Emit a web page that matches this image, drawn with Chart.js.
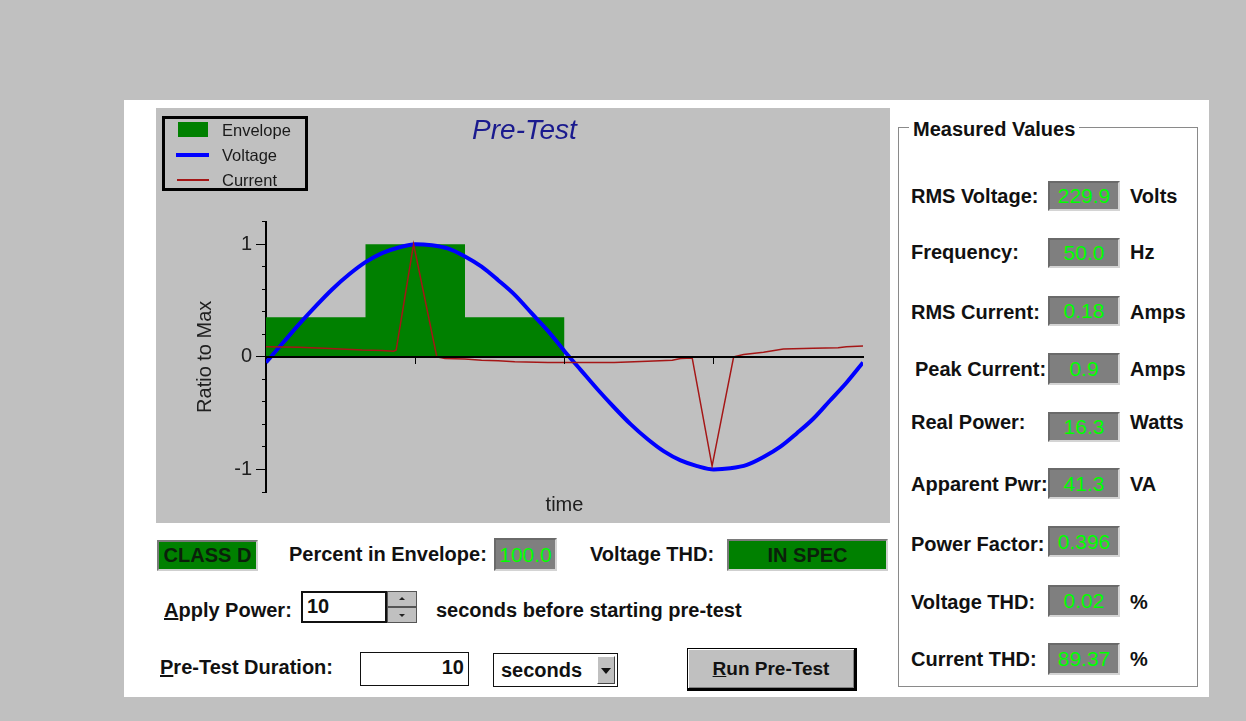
<!DOCTYPE html>
<html><head><meta charset="utf-8">
<script src="https://cdn.jsdelivr.net/npm/chart.js@4/dist/chart.umd.min.js"></script>
<style>
html,body{margin:0;padding:0;}
body{width:1246px;height:721px;background:#c0c0c0;position:relative;overflow:hidden;font-family:"Liberation Sans",Arial,sans-serif;}
#panel{position:absolute;left:124px;top:100px;width:1085px;height:597px;background:#fff;}
#plot{position:absolute;left:156px;top:108px;width:734px;height:415px;background:#c0c0c0;}
#plot canvas{position:absolute;left:0;top:0;}
.t{position:absolute;white-space:nowrap;font-weight:bold;font-size:20px;line-height:24px;color:#111;transform:translateY(-50%);}
.v{position:absolute;box-sizing:border-box;background:#7f7f7f;color:#00ff00;font-size:21px;display:flex;align-items:center;justify-content:center;border:2px solid;border-color:#6a6a6a #d4d4d4 #d4d4d4 #6a6a6a;}
.g{position:absolute;box-sizing:border-box;background:#008000;color:#0b1f0b;font-weight:bold;font-size:20px;display:flex;align-items:center;justify-content:center;border:2px solid;border-color:#7a7a7a #cfcfcf #cfcfcf #7a7a7a;}
#legend{position:absolute;left:162px;top:116px;width:146px;height:75px;box-sizing:border-box;border:3px solid #000;}
.li{position:absolute;font-size:16.5px;color:#1a1a1a;line-height:20px;transform:translateY(-50%);}
.inp{position:absolute;box-sizing:border-box;background:#fff;border:2px solid #111;font-size:20px;font-weight:bold;color:#111;}
.spin{position:absolute;box-sizing:border-box;background:#c0c0c0;border:1px solid #555;}
.arr{position:absolute;width:0;height:0;border-left:3px solid transparent;border-right:3px solid transparent;}
#group{position:absolute;left:898px;top:127px;width:300px;height:560px;box-sizing:border-box;border:1px solid #8a8a8a;box-shadow:inset 1px 1px 0 #fff;}
</style>
</head><body>
<div id="panel"></div>
<div id="plot"><canvas id="c" width="734" height="415"></canvas></div>
<div id="legend"></div>
<div style="position:absolute;left:178px;top:122px;width:30px;height:15px;background:#008000;"></div>
<div class="li" style="left:222px;top:130px;">Envelope</div>
<div style="position:absolute;left:176px;top:153px;width:33px;height:4px;background:#0000ff;"></div>
<div class="li" style="left:222px;top:155px;">Voltage</div>
<div style="position:absolute;left:177px;top:179px;width:32px;height:2px;background:#a51616;"></div>
<div class="li" style="left:222px;top:180px;">Current</div>

<div class="g" style="left:157px;top:540px;width:101px;height:31px;">CLASS D</div>
<div class="t" style="left:289px;top:554px;">Percent in Envelope:</div>
<div class="v" style="left:494px;top:538px;width:63px;height:33px;">100.0</div>
<div class="t" style="left:590px;top:554px;">Voltage THD:</div>
<div class="g" style="left:727px;top:539px;width:161px;height:32px;">IN SPEC</div>

<div class="t" style="left:164px;top:610px;"><u>A</u>pply Power:</div>
<div class="inp" style="left:301px;top:591px;width:86px;height:32px;padding:2px 0 0 4px;">10</div>
<div class="spin" style="left:387px;top:591px;width:30px;height:16px;"><div class="arr" style="left:11px;top:5px;border-bottom:3px solid #222;"></div></div>
<div class="spin" style="left:387px;top:607px;width:30px;height:16px;"><div class="arr" style="left:11px;top:6px;border-top:3px solid #222;"></div></div>
<div class="t" style="left:436px;top:610px;">seconds before starting pre-test</div>

<div class="t" style="left:160px;top:667px;"><u>P</u>re-Test Duration:</div>
<div class="inp" style="left:360px;top:652px;width:109px;height:34px;text-align:right;padding:3px 4px 0 0;border-width:1px;">10</div>
<div class="inp" style="left:493px;top:653px;width:125px;height:34px;border-width:1px;padding:5px 0 0 7px;">seconds</div>
<div style="position:absolute;left:597px;top:656px;width:18px;height:28px;box-sizing:border-box;background:#c0c0c0;border:1px solid;border-color:#fff #444 #444 #fff;"><div class="arr" style="left:3px;top:11px;border-left-width:5px;border-right-width:5px;border-top:6px solid #111;"></div></div>
<div style="position:absolute;left:687px;top:648px;width:170px;height:43px;box-sizing:border-box;background:#c0c0c0;border:1px solid #000;border-right-width:3px;border-bottom-width:3px;box-shadow:inset 1px 1px 0 #fff, inset -1px -1px 0 #808080;display:flex;align-items:center;justify-content:center;font-weight:bold;font-size:19px;color:#111;"><span><u>R</u>un Pre-Test</span></div>

<div id="group"></div>
<div class="t" style="left:909px;top:129px;background:#fff;padding:0 4px;">Measured Values</div>

<div class="t" style="left:911px;top:196px;">RMS Voltage:</div>
<div class="v" style="left:1048px;top:181px;width:72px;height:30px;">229.9</div>
<div class="t" style="left:1130px;top:196px;">Volts</div>

<div class="t" style="left:911px;top:252px;">Frequency:</div>
<div class="v" style="left:1048px;top:238px;width:72px;height:30px;">50.0</div>
<div class="t" style="left:1130px;top:252px;">Hz</div>

<div class="t" style="left:911px;top:312px;">RMS Current:</div>
<div class="v" style="left:1048px;top:296px;width:72px;height:30px;">0.18</div>
<div class="t" style="left:1130px;top:312px;">Amps</div>

<div class="t" style="left:915px;top:369px;">Peak Current:</div>
<div class="v" style="left:1048px;top:353px;width:72px;height:32px;">0.9</div>
<div class="t" style="left:1130px;top:369px;">Amps</div>

<div class="t" style="left:911px;top:422px;">Real Power:</div>
<div class="v" style="left:1048px;top:412px;width:72px;height:30px;">16.3</div>
<div class="t" style="left:1130px;top:422px;">Watts</div>

<div class="t" style="left:911px;top:484px;">Apparent Pwr:</div>
<div class="v" style="left:1048px;top:468px;width:72px;height:31px;">41.3</div>
<div class="t" style="left:1130px;top:484px;">VA</div>

<div class="t" style="left:911px;top:544px;">Power Factor:</div>
<div class="v" style="left:1048px;top:526px;width:72px;height:31px;">0.396</div>

<div class="t" style="left:911px;top:602px;">Voltage THD:</div>
<div class="v" style="left:1048px;top:585px;width:72px;height:32px;">0.02</div>
<div class="t" style="left:1130px;top:602px;">%</div>

<div class="t" style="left:911px;top:659px;">Current THD:</div>
<div class="v" style="left:1048px;top:643px;width:72px;height:32px;">89.37</div>
<div class="t" style="left:1130px;top:659px;">%</div>

<script>
// ---- chart data (x in degrees of one mains period, y as ratio to max) ----
const voltageAngles = [0,10,20,30,40,50,60,70,80,90,100,110,120,130,140,150,160,170,180,190,200,210,220,230,240,250,260,270,280,290,300,310,320,330,340,350,360];
const voltageValues = [-0.05,0.12,0.29,0.45,0.60,0.73,0.84,0.92,0.97,1.00,0.99,0.96,0.89,0.80,0.68,0.55,0.39,0.23,0.05,-0.12,-0.29,-0.45,-0.60,-0.73,-0.84,-0.92,-0.97,-1.00,-0.99,-0.96,-0.89,-0.80,-0.68,-0.55,-0.39,-0.23,-0.05];
const currentAngles = [0,20,35,45,58,70,77,78.5,89,103,108,120,130,140,150,170,185,210,230,245,250,257,269,282,288,300,312,330,345,350,360];
const currentValues = [0.09,0.085,0.075,0.07,0.06,0.055,0.05,0.06,1.0,0.0,-0.015,-0.02,-0.03,-0.035,-0.045,-0.05,-0.05,-0.05,-0.04,-0.03,-0.015,-0.01,-0.97,0.0,0.02,0.04,0.07,0.075,0.08,0.09,0.095];
const envelopeAngles = [0,60,60,120,120,180,180];
const envelopeValues = [0.35,0.35,1,1,0.35,0.35,0];
const yTickLabels = [-1,0,1];

const zip = (xs, ys) => xs.map((x, i) => ({x: x, y: ys[i]}));
Chart.defaults.font.family = '"Liberation Sans", Arial, sans-serif';

new Chart(document.getElementById('c'), {
  type: 'line',
  data: {
    datasets: [
      {label: 'Current', data: zip(currentAngles, currentValues), borderColor: '#a51616', borderWidth: 1.5, pointRadius: 0, tension: 0, fill: false},
      {label: 'Voltage', data: zip(voltageAngles, voltageValues), borderColor: '#0000ff', borderWidth: 4, pointRadius: 0, cubicInterpolationMode: 'monotone', fill: false},
      {label: 'Envelope', data: zip(envelopeAngles, envelopeValues), borderColor: 'rgba(0,0,0,0)', borderWidth: 0, backgroundColor: '#008000', pointRadius: 0, tension: 0, fill: 'origin'}
    ]
  },
  options: {
    responsive: false, animation: false, devicePixelRatio: 1, events: [],
    layout: {padding: {left: 30, right: 27, top: 0, bottom: 0}},
    plugins: {
      legend: {display: false}, tooltip: {enabled: false},
      title: {display: true, text: 'Pre-Test', color: '#1a1a8e', font: {size: 28, style: 'italic', weight: 'normal'}, padding: {top: 6, bottom: 74}}
    },
    scales: {
      x: {type: 'linear', min: 0, max: 360, position: 'bottom',
          grid: {display: false, drawTicks: false}, border: {display: false}, ticks: {display: false},
          title: {display: true, text: 'time', color: '#202020', font: {size: 20}, padding: {top: 1, bottom: 6}}},
      y: {type: 'linear', min: -1.2, max: 1.2, position: 'left',
          afterFit: (s) => { s.width = 80; },
          ticks: {stepSize: 0.2, autoSkip: false, padding: 10, color: '#202020', font: {size: 20},
                  callback: (v) => yTickLabels.some(t => Math.abs(t - v) < 1e-6) ? String(Math.round(v)) : ''},
          grid: {drawOnChartArea: false, drawTicks: true, tickLength: 4, color: '#000', lineWidth: 1},
          border: {display: true, color: '#000', width: 2},
          title: {display: true, text: 'Ratio to Max', color: '#202020', font: {size: 20}, padding: {top: 7, bottom: 0}}},
      x2: {type: 'linear', axis: 'x', position: {y: 0}, min: 0, max: 360,
           ticks: {stepSize: 90, display: false, autoSkip: false},
           grid: {drawOnChartArea: false, tickLength: 6, lineWidth: 1, z: 1,
                  color: (ctx) => (ctx.tick && (ctx.tick.value === 0 || ctx.tick.value === 360)) ? 'rgba(0,0,0,0)' : '#000'},
           border: {display: true, color: '#000', width: 2, z: 1}},
      y2: {type: 'linear', axis: 'y', position: {x: 0}, min: -1.2, max: 1.2,
           ticks: {stepSize: 1, includeBounds: false, display: false, autoSkip: false},
           grid: {drawOnChartArea: false, tickLength: 10, color: '#000', lineWidth: 1},
           border: {display: false}}
    }
  }
});
</script>
</body></html>
